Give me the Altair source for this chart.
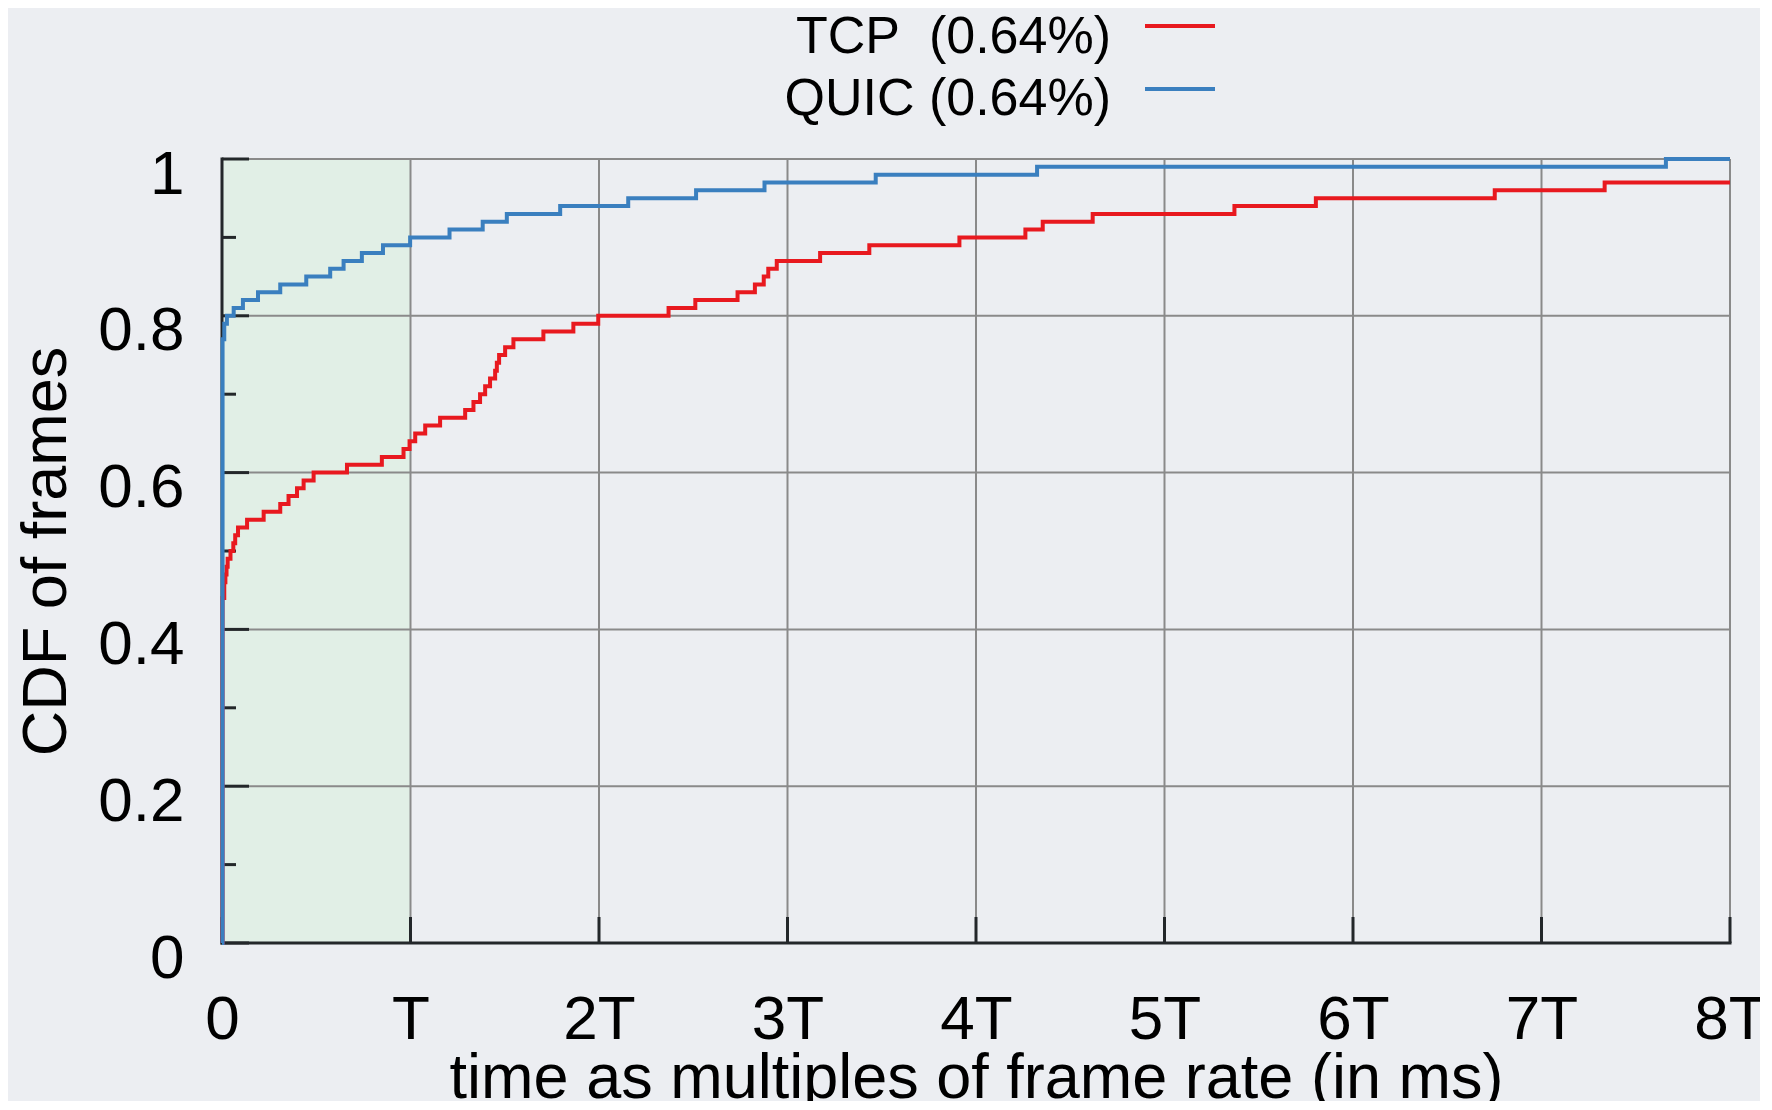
import json
import altair as alt
import pandas as pd

# ---------------- data ----------------
series_names = ["TCP", "QUIC"]
series_colors = ["#e8191f", "#3a7fbf"]
legend_labels = ["TCP\u00a0 (0.64%)", "QUIC (0.64%)"]

tcp_x = [0, 0.003, 0.012, 0.018, 0.024, 0.03, 0.045, 0.06, 0.07, 0.085, 0.133,
         0.221, 0.309, 0.353, 0.398, 0.433, 0.486, 0.663, 0.848, 0.963, 0.995,
         1.025, 1.078, 1.157, 1.29, 1.334, 1.369, 1.396, 1.422, 1.449, 1.458,
         1.47, 1.502, 1.546, 1.705, 1.864, 1.996, 2.369, 2.511, 2.735, 2.827,
         2.874, 2.898, 2.943, 3.173, 3.434, 3.912, 4.262, 4.354, 4.619, 5.371,
         5.803, 6.752, 7.335, 8.0]
tcp_y = [0, 0.44, 0.46, 0.47, 0.48, 0.49, 0.50, 0.51, 0.52, 0.53, 0.54,
         0.55, 0.56, 0.57, 0.58, 0.59, 0.60, 0.61, 0.62, 0.63, 0.64,
         0.65, 0.66, 0.67, 0.68, 0.69, 0.70, 0.71, 0.72, 0.73, 0.74,
         0.75, 0.76, 0.77, 0.78, 0.79, 0.80, 0.81, 0.82, 0.83, 0.84,
         0.85, 0.86, 0.87, 0.88, 0.89, 0.90, 0.91, 0.92, 0.93, 0.94,
         0.95, 0.96, 0.97, 0.97]

quic_x = [0, 0.003, 0.012, 0.026, 0.062, 0.111, 0.191, 0.309, 0.447, 0.574,
          0.645, 0.742, 0.854, 0.998, 1.207, 1.383, 1.511, 1.794, 2.155, 2.515,
          2.878, 3.468, 4.324, 7.66, 8.0]
quic_y = [0, 0.77, 0.79, 0.80, 0.81, 0.82, 0.83, 0.84, 0.85, 0.86,
          0.87, 0.88, 0.89, 0.90, 0.91, 0.92, 0.93, 0.94, 0.95, 0.96,
          0.97, 0.98, 0.99, 1.0, 1.0]

x_ticks = [0, 1, 2, 3, 4, 5, 6, 7, 8]
x_tick_labels = ["0", "T", "2T", "3T", "4T", "5T", "6T", "7T", "8T"]
y_major = [0, 0.2, 0.4, 0.6, 0.8, 1.0]
y_minor = [0.1, 0.3, 0.5, 0.7, 0.9]
shade_range = [0, 1]   # the first frame interval (0 .. T)

x_title = "time as multiples of frame rate (in ms)"
y_title = "CDF of frames"

# ---------------- layout / style ----------------
W, H = 1508, 784
FONT = "Liberation Sans"
BG = "#eceef2"
GRID = "#8a8a8a"
AXIS = "#23272a"

xs = alt.Scale(domain=[0, 8], nice=False, zero=False)
ys = alt.Scale(domain=[0, 1], nice=False, zero=False)
cs = alt.Scale(domain=series_names, range=series_colors)

x_axis = alt.Axis(
    values=x_ticks,
    labelExpr=f"{json.dumps(x_tick_labels)}[datum.value]",
    domain=False, ticks=False, tickSize=0, grid=False,
    labelFont=FONT, labelFontSize=62, labelColor="black",
    labelBaseline="alphabetic", labelPadding=95,
    labelFlush=False, labelOverlap=False, labelBound=False,
    title=x_title, titleFont=FONT, titleFontSize=63, titleFontWeight="normal",
    titleColor="black", titleX=W / 2, titleY=154, titleAlign="center",
    titleBaseline="alphabetic",
)
y_axis = alt.Axis(
    values=y_major, format="~g",
    domain=False, ticks=False, tickSize=0, grid=False,
    labelFont=FONT, labelFontSize=62, labelColor="black",
    labelBaseline="alphabetic", labelPadding=38, labelOffset=34,
    labelFlush=False, labelOverlap=False, labelBound=False,
    title=y_title, titleFont=FONT, titleFontSize=63, titleFontWeight="normal",
    titleColor="black", titleX=-157, titleY=H / 2, titleAngle=270,
    titleAlign="center", titleBaseline="alphabetic",
)

# shaded first-interval band
shade_df = pd.DataFrame({"x0": [shade_range[0]], "x1": [shade_range[1]],
                         "y0": [y_major[0]], "y1": [y_major[-1]]})
shade = alt.Chart(shade_df).mark_rect(color="#d6f0d9", opacity=0.5).encode(
    x=alt.X("x0:Q", scale=xs, axis=x_axis),
    x2="x1:Q",
    y=alt.Y("y0:Q", scale=ys, axis=y_axis),
    y2="y1:Q",
)

# grid lines
vgrid = alt.Chart(pd.DataFrame({"gx": x_ticks[1:]})).mark_rule(
    color=GRID, strokeWidth=2).encode(
    x=alt.X("gx:Q", scale=xs, axis=x_axis), y=alt.value(0), y2=alt.value(H))
hgrid = alt.Chart(pd.DataFrame({"gy": y_major[1:]})).mark_rule(
    color=GRID, strokeWidth=2).encode(
    y=alt.Y("gy:Q", scale=ys, axis=y_axis), x=alt.value(0), x2=alt.value(W))

# axis lines (left and bottom)
left_dom = alt.Chart(pd.DataFrame({"ax": x_ticks[:1]})).mark_rule(
    color=AXIS, strokeWidth=3).encode(
    x=alt.X("ax:Q", scale=xs, axis=x_axis), y=alt.value(-1.5), y2=alt.value(H + 1.5))
bottom_dom = alt.Chart(pd.DataFrame({"ay": y_major[:1]})).mark_rule(
    color=AXIS, strokeWidth=3).encode(
    y=alt.Y("ay:Q", scale=ys, axis=y_axis), x=alt.value(-1.5), x2=alt.value(W + 1.5))

# inward ticks
ymaj_ticks = alt.Chart(pd.DataFrame({"ty": y_major})).mark_rule(
    color=AXIS, strokeWidth=3).encode(
    y=alt.Y("ty:Q", scale=ys, axis=y_axis), x=alt.value(0), x2=alt.value(27))
ymin_ticks = alt.Chart(pd.DataFrame({"ty": y_minor})).mark_rule(
    color=AXIS, strokeWidth=3).encode(
    y=alt.Y("ty:Q", scale=ys, axis=y_axis), x=alt.value(0), x2=alt.value(14))
x_ticks_m = alt.Chart(pd.DataFrame({"tx": x_ticks})).mark_rule(
    color=AXIS, strokeWidth=3).encode(
    x=alt.X("tx:Q", scale=xs, axis=x_axis), y=alt.value(H), y2=alt.value(H - 26))


def series_layer(xv, yv, name):
    df = pd.DataFrame({"t": xv, "cdf": yv, "series": name})
    return alt.Chart(df).mark_line(interpolate="step-after", strokeWidth=4).encode(
        x=alt.X("t:Q", scale=xs, axis=x_axis),
        y=alt.Y("cdf:Q", scale=ys, axis=y_axis),
        color=alt.Color("series:N", scale=cs, legend=None),
    )


tcp_line = series_layer(tcp_x, tcp_y, series_names[0])
quic_line = series_layer(quic_x, quic_y, series_names[1])

# manual legend (label on the left, line sample on the right)
legend_layers = []
text_baselines = [-106, -44]
line_ys = [-133, -70]
for i, name in enumerate(series_names):
    ldf = pd.DataFrame({"label": [legend_labels[i]], "series": [name]})
    legend_layers.append(
        alt.Chart(ldf).mark_text(align="right", baseline="alphabetic", font=FONT,
                                 fontSize=52, color="black").encode(
            text="label:N", x=alt.value(889), y=alt.value(text_baselines[i]))
    )
    legend_layers.append(
        alt.Chart(ldf).mark_rule(strokeWidth=4).encode(
            x=alt.value(923), x2=alt.value(993), y=alt.value(line_ys[i]),
            color=alt.Color("series:N", scale=cs, legend=None))
    )

chart = alt.layer(
    shade, vgrid, hgrid, left_dom, bottom_dom, ymaj_ticks, ymin_ticks, x_ticks_m,
    tcp_line, quic_line, *legend_layers,
).properties(
    width=W, height=H,
    padding={"left": 214, "top": 151, "right": 30, "bottom": 158},
    autosize=alt.AutoSizeParams(type="none"),
    background=BG,
).configure_view(stroke=None)

chart.save("out.html", embed_options={"renderer": "svg", "actions": False})
